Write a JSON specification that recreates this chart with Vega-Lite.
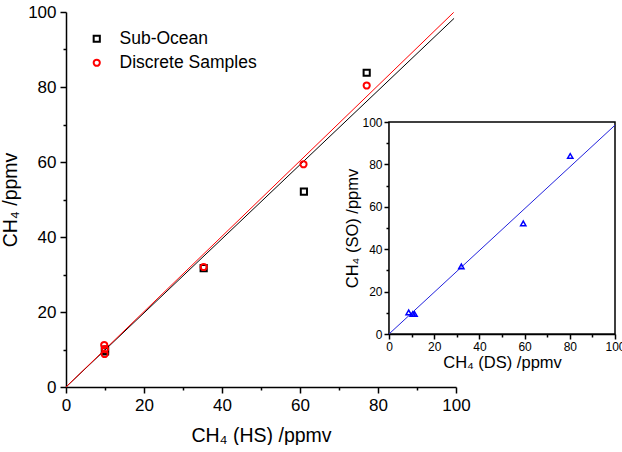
{
  "$schema": "https://vega.github.io/schema/vega-lite/v6.json",
  "width": 390,
  "height": 375,
  "padding": {"left": 0, "top": 3, "right": 0, "bottom": 0},
  "background": "white",
  "config": {
    "view": {"stroke": null},
    "font": "Liberation Sans",
    "axis": {
      "grid": false,
      "domainColor": "black",
      "tickColor": "black",
      "labelColor": "black",
      "titleColor": "black",
      "titleFontWeight": "normal",
      "labelFont": "Liberation Sans",
      "titleFont": "Liberation Sans",
      "domainWidth": 1.5,
      "tickWidth": 1.5,
      "labelFlush": false,
      "labelOverlap": false
    }
  },
  "datasets": {
    "pts": [
      {"series": "Sub-Ocean", "x": 10, "y": 10},
      {"series": "Sub-Ocean", "x": 10, "y": 9.5},
      {"series": "Sub-Ocean", "x": 10, "y": 9.6},
      {"series": "Sub-Ocean", "x": 35.3, "y": 31.7},
      {"series": "Sub-Ocean", "x": 61, "y": 52.1},
      {"series": "Sub-Ocean", "x": 77.1, "y": 83.8},
      {"series": "Discrete Samples", "x": 9.8, "y": 11.2},
      {"series": "Discrete Samples", "x": 10, "y": 10.1},
      {"series": "Discrete Samples", "x": 9.9, "y": 8.8},
      {"series": "Discrete Samples", "x": 35.3, "y": 32},
      {"series": "Discrete Samples", "x": 60.9, "y": 59.4},
      {"series": "Discrete Samples", "x": 77.1, "y": 80.4}
    ],
    "fitSO": [{"x": 0, "y": 0}, {"x": 99.5, "y": 98.3}],
    "fitDS": [{"x": 0, "y": 0}, {"x": 99.4, "y": 99.9}],
    "inset": [
      {"x": 8.7, "y": 10.2},
      {"x": 10.5, "y": 9.4},
      {"x": 11.3, "y": 9.4},
      {"x": 32, "y": 31.9},
      {"x": 59.4, "y": 52.2},
      {"x": 80.2, "y": 84}
    ],
    "insetFit": [{"x": 0, "y": 0}, {"x": 100, "y": 98.5}],
    "frame": [{"x": 0, "x2": 100, "y": 0, "y2": 100}]
  },
  "layer": [
    {
      "encoding": {
        "x": {
          "field": "x", "type": "quantitative",
          "scale": {"domain": [0, 100], "nice": false, "zero": false},
          "axis": {
            "orient": "bottom",
            "values": [0, 10, 20, 30, 40, 50, 60, 70, 80, 90, 100],
            "labelExpr": "datum.value % 20 === 0 ? datum.label : ''",
            "tickSize": {"condition": {"test": "datum.value % 20 === 0", "value": 6}, "value": 3},
            "labelFontSize": 17,
            "labelPadding": 4,
            "title": "CH₄ (HS) /ppmv",
            "titleFontSize": 19.5,
            "titlePadding": 13
          }
        },
        "y": {
          "field": "y", "type": "quantitative",
          "scale": {"domain": [0, 100], "nice": false, "zero": false},
          "axis": {
            "orient": "left",
            "values": [0, 10, 20, 30, 40, 50, 60, 70, 80, 90, 100],
            "labelExpr": "datum.value % 20 === 0 ? datum.label : ''",
            "tickSize": {"condition": {"test": "datum.value % 20 === 0", "value": 6}, "value": 3},
            "labelFontSize": 17,
            "labelPadding": 4,
            "title": "CH₄ /ppmv",
            "titleFontSize": 19.5,
            "titlePadding": 7
          }
        }
      },
      "layer": [
        {"data": {"name": "fitSO"}, "mark": {"type": "line", "color": "black", "strokeWidth": 1}},
        {"data": {"name": "fitDS"}, "mark": {"type": "line", "color": "#ff0000", "strokeWidth": 1}},
        {
          "data": {"name": "pts"},
          "mark": {"type": "point", "filled": false, "strokeWidth": 2, "size": 38, "opacity": 1},
          "encoding": {
            "color": {
              "field": "series", "type": "nominal",
              "scale": {"domain": ["Sub-Ocean", "Discrete Samples"], "range": ["black", "#ff0000"]},
              "legend": {
                "orient": "none", "legendX": 22, "legendY": 18, "title": null,
                "labelFontSize": 17.5, "labelFont": "Liberation Sans", "labelColor": "black",
                "symbolSize": 38, "symbolStrokeWidth": 2, "labelOffset": 14, "rowPadding": 5
              }
            },
            "shape": {
              "field": "series", "type": "nominal",
              "scale": {"domain": ["Sub-Ocean", "Discrete Samples"], "range": ["square", "circle"]}
            }
          }
        }
      ]
    },
    {
      "encoding": {
        "x": {
          "field": "x", "type": "quantitative",
          "scale": {"domain": [0, 100], "nice": false, "zero": false, "range": [323, 549]},
          "axis": {
            "orient": "bottom",
            "offset": -53,
            "values": [0, 10, 20, 30, 40, 50, 60, 70, 80, 90, 100],
            "labelExpr": "datum.value % 20 === 0 ? datum.label : ''",
            "tickSize": {"condition": {"test": "datum.value % 20 === 0", "value": 5}, "value": 3},
            "labelFontSize": 12,
            "labelPadding": 2,
            "title": "CH₄ (DS) /ppmv",
            "titleFontSize": 16.5,
            "titlePadding": 2
          }
        },
        "y": {
          "field": "y", "type": "quantitative",
          "scale": {"domain": [0, 100], "nice": false, "zero": false, "range": [322, 110]},
          "axis": {
            "orient": "left",
            "offset": -323,
            "values": [0, 10, 20, 30, 40, 50, 60, 70, 80, 90, 100],
            "labelExpr": "datum.value % 20 === 0 ? datum.label : ''",
            "tickSize": {"condition": {"test": "datum.value % 20 === 0", "value": 5}, "value": 3},
            "labelFontSize": 12,
            "labelPadding": 2,
            "title": "CH₄ (SO) /ppmv",
            "titleFontSize": 16.5,
            "titlePadding": 1
          }
        }
      },
      "layer": [
        {
          "data": {"name": "frame"},
          "mark": {"type": "rect", "fill": "white", "stroke": "black", "strokeWidth": 1.5},
          "encoding": {"x2": {"field": "x2"}, "y2": {"field": "y2"}}
        },
        {"data": {"name": "insetFit"}, "mark": {"type": "line", "color": "#2222dd", "strokeWidth": 1}},
        {
          "data": {"name": "inset"},
          "mark": {"type": "point", "shape": "triangle-up", "filled": false, "color": "#0000ff", "strokeWidth": 1.5, "size": 28, "opacity": 1}
        }
      ]
    }
  ],
  "resolve": {
    "scale": {"x": "independent", "y": "independent"},
    "axis": {"x": "independent", "y": "independent"}
  }
}
